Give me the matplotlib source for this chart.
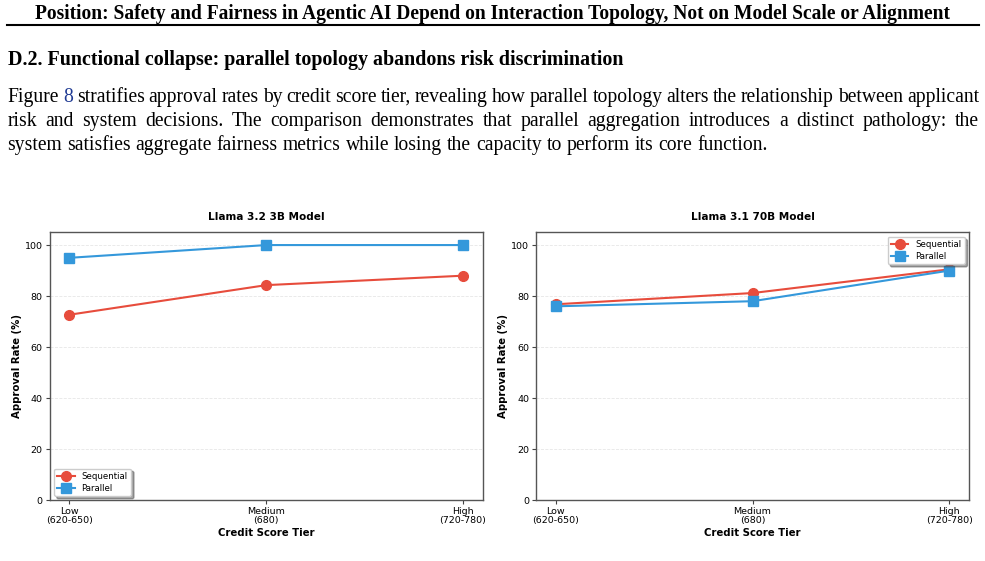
import matplotlib
matplotlib.use('Agg')
import matplotlib.pyplot as plt
from matplotlib.lines import Line2D

# data
tiers = ['Low\n(620-650)', 'Medium\n(680)', 'High\n(720-780)']
models = ['Llama 3.2 3B Model', 'Llama 3.1 70B Model']
seq_3b = [72.7, 84.3, 88.0]
par_3b = [95.0, 100.0, 100.0]
seq_70b = [76.8, 81.2, 90.5]
par_70b = [76.0, 78.0, 90.0]

header = ('Position: Safety and Fairness in Agentic AI Depend on Interaction '
          'Topology, Not on Model Scale or Alignment')
section = 'D.2. Functional collapse: parallel topology abandons risk discrimination'
para_lines = [
    'Figure 8 stratifies approval rates by credit score tier, revealing how parallel '
    'topology alters the relationship between applicant',
    'risk and system decisions.  The comparison demonstrates that parallel aggregation '
    'introduces a distinct pathology:  the',
    'system satisfies aggregate fairness metrics while losing the capacity to perform '
    'its core function.',
]

W, H = 985, 561
fig = plt.figure(figsize=(W / 100, H / 100), dpi=100)
renderer = fig.canvas.get_renderer()
SERIF = ['Liberation Serif', 'DejaVu Serif']


def px(x, y):
    return x / W, 1 - y / H


def fit_text(s, x0, x1, y, weight='normal', ha='left'):
    # size a line of text so that it spans x0..x1 pixels
    t = fig.text(*px(x0, y), s, family=SERIF, fontsize=12, weight=weight, va='baseline')
    w = t.get_window_extent(renderer).width
    t.set_fontsize(12 * (x1 - x0) / w)
    if ha == 'center':
        t.set_position(px((x0 + x1) / 2, y))
        t.set_ha('center')
    return t


def word_width(w, fs):
    t = fig.text(0, 0, w, family=SERIF, fontsize=fs)
    ww = t.get_window_extent(renderer).width
    t.remove()
    return ww


def place_line(line, x0, x1, y, fs, justify=True):
    words = line.split()
    widths = [word_width(w, fs) for w in words]
    space = word_width('a a', fs) - word_width('aa', fs)
    if justify and len(words) > 1:
        gap = (x1 - x0 - sum(widths)) / (len(words) - 1)
    else:
        gap = space
    x = x0
    for w, ww in zip(words, widths):
        color = '#1f3a93' if w == '8' else 'black'
        fig.text(*px(x, y), w, family=SERIF, fontsize=fs, color=color, va='baseline')
        x += ww + gap


fit_text(header, 37, 948, 19, weight='bold', ha='center')
fig.add_artist(Line2D([7 / W, 979 / W], [1 - 25.3 / H] * 2, color='black', lw=1.5))
fit_text(section, 8, 620, 65, weight='bold')

body_fs = 14.1
for i, line in enumerate(para_lines):
    place_line(line, 7.5, 979, 101.7 + 24.2 * i, body_fs, justify=(i < 2))

# charts
red = '#e74c3c'
blue = '#3498db'
x = range(len(tiers))
panels = [(seq_3b, par_3b, 'lower left'), (seq_70b, par_70b, 'upper right')]
lefts = [49.7, 536]
for (seq, par, loc), title, left in zip(panels, models, lefts):
    ax = fig.add_axes([left / W, 1 - 500.3 / H, 433 / W, 268 / H])
    ax.plot(x, seq, marker='o', color=red, lw=1.5, ms=7, label='Sequential')
    ax.plot(x, par, marker='s', color=blue, lw=1.5, ms=7, label='Parallel')
    ax.set_xlim(-0.1, 2.1)
    ax.set_ylim(0, 105)
    ax.set_xticks(list(x))
    ax.set_xticklabels(tiers, fontsize=6.8, linespacing=1.0)
    ax.set_yticks([0, 20, 40, 60, 80, 100])
    ax.tick_params(labelsize=6.8, length=3, width=0.8, color='#444444', pad=2)
    ax.set_xlabel('Credit Score Tier', fontsize=7.3, weight='bold', labelpad=2)
    ax.set_ylabel('Approval Rate (%)', fontsize=7.3, weight='bold', labelpad=2)
    ax.set_title(title, fontsize=7.6, weight='bold', pad=9)
    ax.grid(axis='y', ls='--', lw=0.6, alpha=0.3)
    for sp in ax.spines.values():
        sp.set_color('#555555')
        sp.set_linewidth(1.0)
    ax.legend(loc=loc, fontsize=6.2, shadow=True, fancybox=True, framealpha=1,
              handlelength=2.0, borderpad=0.4, labelspacing=0.3)

fig.savefig('out.png', dpi=100)
